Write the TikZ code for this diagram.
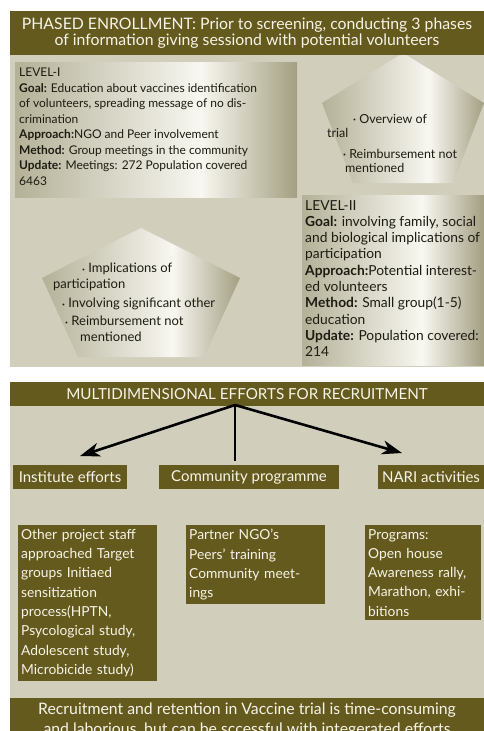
\documentclass[tikz,border=0pt]{standalone}
\usepackage{fontspec}
\setmainfont{Lato}
\usetikzlibrary{arrows.meta,positioning}
\definecolor{olive}{RGB}{101,90,30}
\definecolor{panel}{RGB}{209,207,188}
\definecolor{paper}{RGB}{246,244,232}
\definecolor{ink}{RGB}{28,28,18}
\definecolor{shadeL}{RGB}{180,177,152}
\definecolor{shadeM}{RGB}{248,247,241}
\definecolor{shadeR}{RGB}{163,159,130}
\pgfdeclarehorizontalshading{levelshade}{100bp}{color(0bp)=(shadeL); color(25bp)=(shadeL);
  color(58bp)=(shadeM); color(75bp)=(shadeR); color(100bp)=(shadeR)}
\newcommand{\blt}{\raisebox{.25ex}{\tiny\textbullet}}

\begin{document}
\begin{tikzpicture}[x=1pt, y=-1pt,
    band/.style={fill=olive, text=paper, align=center, inner sep=0pt,
                 minimum width=474pt},
    lvl/.style={shading=levelshade},
    lvltxt/.style={anchor=north west, align=left, inner sep=0pt, text=ink},
    tag/.style={fill=olive, text=paper, inner sep=0pt, minimum height=24pt,
                font=\fontsize{15}{17}\selectfont},
    card/.style={fill=olive, text=paper, anchor=north west, align=left,
                 inner xsep=3pt, inner ysep=4pt, font=\fontsize{13.8}{19.3}\selectfont},
    arr/.style={line width=2.6pt, -{Stealth[length=20pt,width=14pt,inset=6pt]}}]
  \useasboundingbox (0,0) rectangle (484,731);
  \clip (0,0) rectangle (484,731);

  % Phased enrollment panel
  \fill[panel] (10,55) rectangle (484,367);
  \path[lvl] (15,62) rectangle (297,197);
  \path[lvl] (403,53) -- (484,103) -- (453,183) -- (353,183) -- (322,103) -- cycle;
  \path[lvl] (302,195) rectangle (484,365);
  \path[lvl] (141,228) -- (240,278) -- (204,357) -- (78,357) -- (42,278) -- cycle;
  \node[band, minimum height=44pt, font=\fontsize{15.8}{16.5}\selectfont]
    (phaseHead) at (247,33)
    {PHASED ENROLLMENT: Prior to screening, conducting 3 phases\\
     of information giving sessiond with potential volunteers};

  \node[lvltxt, font=\fontsize{12}{15.5}\selectfont] (levelOne) at (19,68)
    {LEVEL-I\\
     \textbf{Goal:} Education about vaccines identification\\
     of volunteers, spreading message of no dis-\\
     crimination\\
     \textbf{Approach:}NGO and Peer involvement\\
     \textbf{Method:} Group meetings in the community\\
     \textbf{Update:} Meetings: 272 Population covered\\
     6463};
  \node[lvltxt, font=\fontsize{13.8}{16.3}\selectfont] (levelTwo) at (305,200)
    {LEVEL-II\\
     \textbf{Goal:} involving family, social\\
     and biological implications of\\
     participation\\
     \textbf{Approach:}Potential interest-\\
     ed volunteers\\
     \textbf{Method:} Small group(1-5)\\
     education\\
     \textbf{Update:} Population covered:\\
     214};
  \node[lvltxt, font=\fontsize{12.5}{14.5}\selectfont] (phaseOne) at (327,114)
    {\hspace*{26pt}\blt\ Overview of\\
     trial\\[6pt]
     \hspace*{16pt}\blt\ Reimbursement not\\
     \hspace*{18pt}mentioned};
  \node[lvltxt, font=\fontsize{13}{16}\selectfont] (phaseTwo) at (53,263)
    {\hspace*{29pt}\blt\ Implications of\\
     participation\\[3pt]
     \hspace*{9pt}\blt\ Involving significant other\\[2pt]
     \hspace*{12pt}\blt\ Reimbursement not\\
     \hspace*{27pt}mentioned};

  % Multidimensional efforts panel
  \fill[panel] (10,406) rectangle (484,698);
  \node[band, minimum height=24pt, font=\fontsize{15.2}{16}\selectfont]
    (effortHead) at (247,394) {MULTIDIMENSIONAL EFFORTS FOR RECRUITMENT};
  \coordinate (hub) at (235,405);
  \coordinate (instEnd) at (80,456);
  \coordinate (commEnd) at (235,461);
  \coordinate (nariEnd) at (402,453);
  \draw[arr] (hub) -- (instEnd);
  \draw[line width=2.6pt] (hub) -- (commEnd);
  \draw[arr] (hub) -- (nariEnd);

  \node[tag, minimum width=114pt] (inst) at (70,477) {Institute efforts};
  \node[tag, minimum width=180pt] (comm) at (249,477) {Community programme};
  \node[tag, minimum width=106pt] (nari) at (431,477) {NARI activities};

  \node[card, text width=133pt] (instCard) at (18,525)
    {Other project staff\\
     approached Target\\
     groups Initiaed\\
     sensitization\\
     process(HPTN,\\
     Psycological study,\\
     Adolescent study,\\
     Microbicide study)};
  \node[card, text width=133pt] (commCard) at (186,525)
    {Partner NGO’s\\
     Peers’ training\\
     Community meet-\\
     ings};
  \node[card, text width=110pt] (nariCard) at (365,525)
    {Programs:\\
     Open house\\
     Awareness rally,\\
     Marathon, exhi-\\
     bitions};

  \node[band, minimum height=44pt, anchor=north, inner ysep=2pt,
        font=\fontsize{15.8}{20}\selectfont] (closing) at (247,698)
    {Recruitment and retention in Vaccine trial is time-consuming\\
     and laborious, but can be sccessful with integerated efforts};
\end{tikzpicture}
\end{document}
